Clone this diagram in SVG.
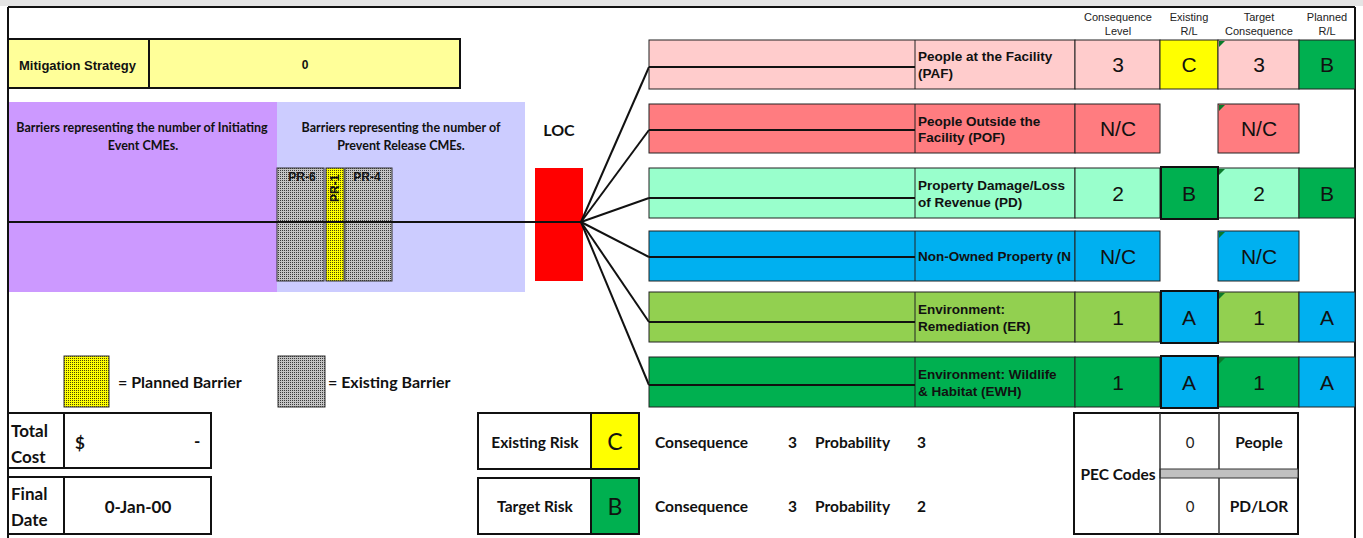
<svg xmlns="http://www.w3.org/2000/svg" width="1363" height="538" viewBox="0 0 1363 538">
<style>
.cal{font-family:Lato,"Liberation Sans",sans-serif;font-weight:bold;fill:#111}
.tah{font-family:"Liberation Sans",Arial,sans-serif;fill:#111}
.hdr{font-family:"Liberation Sans",Arial,sans-serif;font-size:11px;fill:#222;text-anchor:middle}
.lbl{font-family:"Liberation Sans",Arial,sans-serif;font-size:13.5px;font-weight:bold;fill:#111}
.big{font-family:"Liberation Sans",Arial,sans-serif;font-size:21px;fill:#111;text-anchor:middle}
.cell{stroke:#222;stroke-width:1}
.thick{stroke:#111;stroke-width:2}
.box{fill:#fff;stroke:#111;stroke-width:2}
.conn{stroke:#111;stroke-width:2;fill:none}
.sub{stroke:#111;stroke-width:2}
.tri{fill:#0a7a2a}
.mid{text-anchor:middle}
</style>
<defs>
<pattern id="pgray" width="2" height="2" patternUnits="userSpaceOnUse"><rect width="2" height="2" fill="#c4c4c4"/><rect width="1" height="1" fill="#3a3a3a"/></pattern>
<pattern id="pyel" width="2" height="2" patternUnits="userSpaceOnUse"><rect width="2" height="2" fill="#ffff00"/><rect width="1" height="1" fill="#4a4a00"/></pattern>
<clipPath id="clipLbl"><rect x="915" y="0" width="160" height="538"/></clipPath>
</defs>
<rect width="1363" height="538" fill="#fff"/>
<rect width="1363" height="6" fill="#e4e4e4"/>
<g id="frame">
<line x1="8" y1="7" x2="1355" y2="7" stroke="#111" stroke-width="2"/>
<line x1="8" y1="7" x2="8" y2="538" stroke="#111" stroke-width="2"/>
<line x1="1355" y1="7" x2="1355" y2="538" stroke="#111" stroke-width="2"/>
</g>
<g id="headers">
<text class="hdr" x="1118" y="21">Consequence</text><text class="hdr" x="1118" y="35">Level</text>
<text class="hdr" x="1189" y="21">Existing</text><text class="hdr" x="1189" y="35">R/L</text>
<text class="hdr" x="1259" y="21">Target</text><text class="hdr" x="1259" y="35">Consequence</text>
<text class="hdr" x="1327" y="21">Planned</text><text class="hdr" x="1327" y="35">R/L</text>
</g>
<g id="mitigation">
<rect x="8" y="39" width="452" height="49" fill="#ffff99" stroke="#111" stroke-width="2"/>
<line x1="149" y1="39" x2="149" y2="88" stroke="#111" stroke-width="2"/>
<text class="tah" x="19" y="70" font-size="13" font-weight="bold">Mitigation Strategy</text>
<text class="tah mid" x="305" y="69" font-size="12" font-weight="bold">0</text>
</g>
<g id="initiating">
<rect x="9" y="102" width="268" height="190" fill="#cc99ff"/>
<text class="cal mid" x="142" y="132" font-size="12.5">Barriers representing the number of Initiating</text>
<text class="cal mid" x="143" y="150" font-size="12.5">Event CMEs.</text>
</g>
<g id="prevent">
<rect x="277" y="102" width="248" height="190" fill="#ccccff"/>
<text class="cal mid" x="401" y="132" font-size="12.5">Barriers representing the number of</text>
<text class="cal mid" x="401" y="150" font-size="12.5">Prevent Release CMEs.</text>
</g>
<g id="pr6">
<rect x="277" y="168" width="47" height="113" fill="url(#pgray)" stroke="#333" stroke-width="1"/>
<text class="tah mid" x="302" y="181" font-size="12" font-weight="bold">PR-6</text>
</g>
<g id="pr1">
<rect x="326" y="168" width="18" height="113" fill="url(#pyel)" stroke="#333" stroke-width="1"/>
<text class="tah" x="339" y="202" font-size="12" font-weight="bold" transform="rotate(-90 339 202)">PR-1</text>
</g>
<g id="pr4">
<rect x="345" y="168" width="47" height="113" fill="url(#pgray)" stroke="#333" stroke-width="1"/>
<text class="tah mid" x="367" y="181" font-size="12" font-weight="bold">PR-4</text>
</g>
<g id="loc">
<text class="cal mid" x="559" y="136" font-size="16">LOC</text>
<rect x="535" y="168" width="48" height="113" fill="#ff0000"/>
</g>
<g id="connectors">
<line class="conn" x1="8" y1="222" x2="581" y2="222"/>
<line class="conn" x1="581" y1="222" x2="649" y2="67"/>
<line class="conn" x1="581" y1="222" x2="649" y2="130"/>
<line class="conn" x1="581" y1="222" x2="649" y2="198"/>
<line class="conn" x1="581" y1="222" x2="649" y2="257"/>
<line class="conn" x1="581" y1="222" x2="649" y2="322"/>
<line class="conn" x1="581" y1="222" x2="649" y2="385"/>
</g>
<g id="row-paf">
<rect class="cell" x="649" y="40" width="426" height="49" fill="#ffcccc"/>
<line class="cell" x1="915" y1="40" x2="915" y2="89"/>
<line class="sub" x1="649" y1="67" x2="915" y2="67"/>
<g clip-path="url(#clipLbl)"><text class="lbl" x="918" y="61">People at the Facility</text><text class="lbl" x="918" y="78">(PAF)</text></g>
<rect class="cell" x="1075" y="40" width="85" height="49" fill="#ffcccc"/><text class="big" x="1118" y="72">3</text>
<rect class="cell" x="1160" y="40" width="58" height="49" fill="#ffff00"/><text class="big" x="1189" y="72">C</text>
<rect class="cell" x="1218" y="40" width="81" height="49" fill="#ffcccc"/><text class="big" x="1259" y="72">3</text>
<polygon class="tri" points="1219,41 1225,41 1219,47"/>
<rect class="cell" x="1299" y="40" width="56" height="49" fill="#00b050"/><text class="big" x="1327" y="72">B</text>
</g>
<g id="row-pof">
<rect class="cell" x="649" y="104" width="426" height="49" fill="#ff7c80"/>
<line class="cell" x1="915" y1="104" x2="915" y2="153"/>
<line class="sub" x1="649" y1="130" x2="915" y2="130"/>
<g clip-path="url(#clipLbl)"><text class="lbl" x="918" y="126">People Outside the</text><text class="lbl" x="918" y="142">Facility (POF)</text></g>
<rect class="cell" x="1075" y="104" width="85" height="49" fill="#ff7c80"/><text class="big" x="1118" y="136">N/C</text>
<rect class="cell" x="1218" y="104" width="81" height="49" fill="#ff7c80"/><text class="big" x="1259" y="136">N/C</text>
<polygon class="tri" points="1219,105 1225,105 1219,111"/>
</g>
<g id="row-pd">
<rect class="cell" x="649" y="168" width="426" height="50" fill="#99ffcc"/>
<line class="cell" x1="915" y1="168" x2="915" y2="218"/>
<line class="sub" x1="649" y1="198" x2="915" y2="198"/>
<g clip-path="url(#clipLbl)"><text class="lbl" x="918" y="190">Property Damage/Loss</text><text class="lbl" x="918" y="207">of Revenue (PD)</text></g>
<rect class="cell" x="1075" y="168" width="85" height="50" fill="#99ffcc"/><text class="big" x="1118" y="201">2</text>
<rect class="cell" x="1218" y="168" width="81" height="50" fill="#99ffcc"/><text class="big" x="1259" y="201">2</text>
<polygon class="tri" points="1219,169 1225,169 1219,175"/>
<rect class="cell" x="1299" y="168" width="56" height="50" fill="#00b050"/><text class="big" x="1327" y="201">B</text>
<rect class="thick" x="1161" y="167" width="57" height="52" fill="#00b050"/><text class="big" x="1189" y="201">B</text>
</g>
<g id="row-nop">
<rect class="cell" x="649" y="231" width="426" height="50" fill="#00b0f0"/>
<line class="cell" x1="915" y1="231" x2="915" y2="281"/>
<line class="sub" x1="649" y1="257" x2="915" y2="257"/>
<g clip-path="url(#clipLbl)"><text class="lbl" x="918" y="261">Non-Owned Property (N</text></g>
<rect class="cell" x="1075" y="231" width="85" height="50" fill="#00b0f0"/><text class="big" x="1118" y="264">N/C</text>
<rect class="cell" x="1218" y="231" width="81" height="50" fill="#00b0f0"/><text class="big" x="1259" y="264">N/C</text>
<polygon class="tri" points="1219,232 1225,232 1219,238"/>
</g>
<g id="row-er">
<rect class="cell" x="649" y="292" width="426" height="50" fill="#92d050"/>
<line class="cell" x1="915" y1="292" x2="915" y2="342"/>
<line class="sub" x1="649" y1="322" x2="915" y2="322"/>
<g clip-path="url(#clipLbl)"><text class="lbl" x="918" y="314">Environment:</text><text class="lbl" x="918" y="331">Remediation (ER)</text></g>
<rect class="cell" x="1075" y="292" width="85" height="50" fill="#92d050"/><text class="big" x="1118" y="325">1</text>
<rect class="cell" x="1218" y="292" width="81" height="50" fill="#92d050"/><text class="big" x="1259" y="325">1</text>
<polygon class="tri" points="1219,293 1225,293 1219,299"/>
<rect class="cell" x="1299" y="292" width="56" height="50" fill="#00b0f0"/><text class="big" x="1327" y="325">A</text>
<rect class="thick" x="1161" y="291" width="57" height="52" fill="#00b0f0"/><text class="big" x="1189" y="325">A</text>
</g>
<g id="row-ewh">
<rect class="cell" x="649" y="357" width="426" height="50" fill="#00b050"/>
<line class="cell" x1="915" y1="357" x2="915" y2="407"/>
<line class="sub" x1="649" y1="385" x2="915" y2="385"/>
<g clip-path="url(#clipLbl)"><text class="lbl" x="918" y="379">Environment: Wildlife</text><text class="lbl" x="918" y="396">&amp; Habitat (EWH)</text></g>
<rect class="cell" x="1075" y="357" width="85" height="50" fill="#00b050"/><text class="big" x="1118" y="390">1</text>
<rect class="cell" x="1218" y="357" width="81" height="50" fill="#00b050"/><text class="big" x="1259" y="390">1</text>
<polygon class="tri" points="1219,358 1225,358 1219,364"/>
<rect class="cell" x="1299" y="357" width="56" height="50" fill="#00b0f0"/><text class="big" x="1327" y="390">A</text>
<rect class="thick" x="1161" y="356" width="57" height="52" fill="#00b0f0"/><text class="big" x="1189" y="390">A</text>
</g>
<g id="legend">
<rect x="64" y="356" width="45" height="51" fill="url(#pyel)" stroke="#333" stroke-width="1"/>
<text class="cal" x="118" y="388" font-size="16">= Planned Barrier</text>
<rect x="278" y="356" width="47" height="51" fill="url(#pgray)" stroke="#333" stroke-width="1"/>
<text class="cal" x="328" y="388" font-size="16">= Existing Barrier</text>
</g>
<g id="total-cost">
<rect class="box" x="8" y="413" width="203" height="55"/>
<line x1="64" y1="413" x2="64" y2="468" stroke="#111" stroke-width="2"/>
<text class="cal" x="11" y="437" font-size="17">Total</text>
<text class="cal" x="11" y="463" font-size="17">Cost</text>
<text class="cal" x="75" y="449" font-size="17">$</text>
<text class="cal" x="194" y="447" font-size="17">-</text>
</g>
<g id="final-date">
<rect class="box" x="8" y="477" width="203" height="57"/>
<line x1="64" y1="477" x2="64" y2="534" stroke="#111" stroke-width="2"/>
<text class="cal" x="11" y="500" font-size="17">Final</text>
<text class="cal" x="11" y="526" font-size="17">Date</text>
<text class="cal mid" x="138" y="513" font-size="17">0-Jan-00</text>
</g>
<g id="existing-risk">
<rect class="box" x="478" y="413" width="161" height="56"/>
<rect x="591" y="413" width="48" height="56" fill="#ffff00" stroke="#111" stroke-width="2"/>
<text class="cal mid" x="535" y="448" font-size="15.5">Existing Risk</text>
<text class="mid" x="615" y="450" font-family="Lato,'Liberation Sans',sans-serif" font-size="23" fill="#111">C</text>
<text class="cal" x="655" y="448" font-size="15.5">Consequence</text>
<text class="cal" x="788" y="448" font-size="15.5">3</text>
<text class="cal" x="815" y="448" font-size="15.5">Probability</text>
<text class="cal" x="917" y="448" font-size="15.5">3</text>
</g>
<g id="target-risk">
<rect class="box" x="478" y="478" width="161" height="56"/>
<rect x="591" y="478" width="48" height="56" fill="#00b050" stroke="#111" stroke-width="2"/>
<text class="cal mid" x="535" y="512" font-size="15.5">Target Risk</text>
<text class="mid" x="615" y="515" font-family="Lato,'Liberation Sans',sans-serif" font-size="23" fill="#111">B</text>
<text class="cal" x="655" y="512" font-size="15.5">Consequence</text>
<text class="cal" x="788" y="512" font-size="15.5">3</text>
<text class="cal" x="815" y="512" font-size="15.5">Probability</text>
<text class="cal" x="917" y="512" font-size="15.5">2</text>
</g>
<g id="pec-codes">
<rect class="box" x="1074" y="413" width="224" height="121"/>
<rect x="1160" y="469" width="138" height="9" fill="#c0c0c0" stroke="#333" stroke-width="1"/>
<line x1="1160" y1="413" x2="1160" y2="534" stroke="#333" stroke-width="1.5"/>
<line x1="1219" y1="413" x2="1219" y2="469" stroke="#333" stroke-width="1.5"/>
<line x1="1219" y1="478" x2="1219" y2="534" stroke="#333" stroke-width="1.5"/>
<text class="cal mid" x="1118" y="480" font-size="15.5">PEC Codes</text>
<text class="mid" x="1190" y="448" font-family="Lato,'Liberation Sans',sans-serif" font-size="15" fill="#222">0</text>
<text class="cal mid" x="1259" y="448" font-size="15.5">People</text>
<text class="mid" x="1190" y="512" font-family="Lato,'Liberation Sans',sans-serif" font-size="15" fill="#222">0</text>
<text class="cal mid" x="1259" y="512" font-size="15.5">PD/LOR</text>
</g>
</svg>
